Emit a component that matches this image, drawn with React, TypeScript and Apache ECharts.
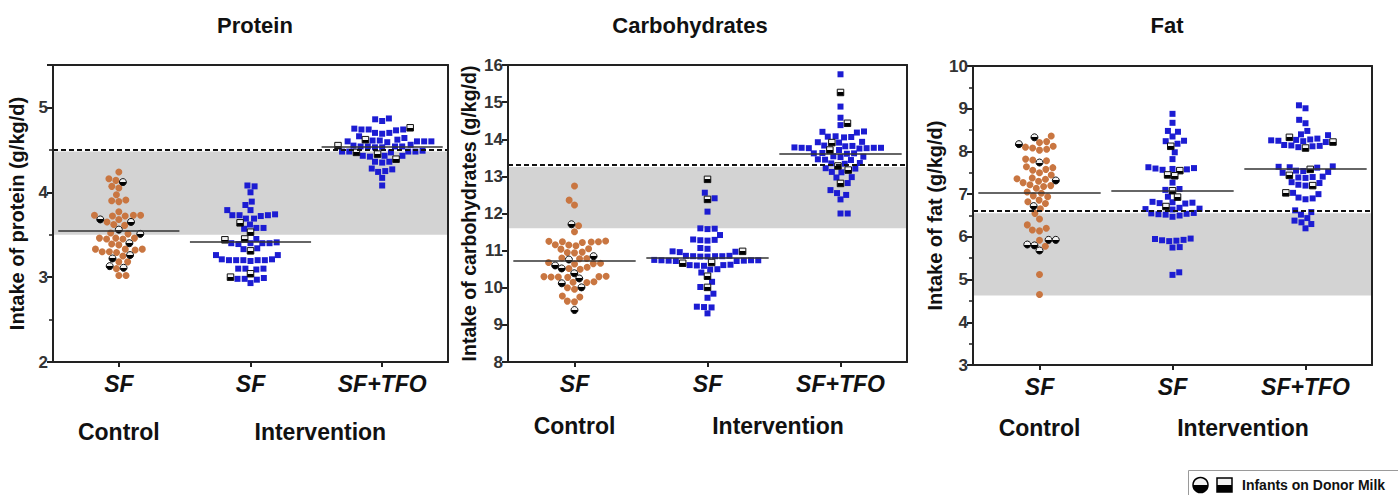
import React, { useEffect, useRef } from 'react';
import * as echarts from 'echarts';

const categories = ['SF', 'SF', 'SF+TFO'];
const groupLabels = ['Control', 'Intervention'];
const titles = ['Protein', 'Carbohydrates', 'Fat'];
const yNames = ['Intake of protein (g/kg/d)', 'Intake of carbohydrates (g/kg/d)', 'Intake of fat (g/kg/d)'];
const legendLabel = 'Infants on Donor Milk';

// ---------- Protein ----------
const proteinControl = [4.24, 4.16, 4.14, 4.07, 4.05, 3.97, 3.91, 3.89, 3.9, 3.77, 3.73, 3.73, 3.72, 3.72, 3.73, 3.68, 3.65, 3.62, 3.61, 3.52, 3.51, 3.46, 3.46, 3.45, 3.46, 3.45, 3.39, 3.38, 3.33, 3.33, 3.32, 3.33, 3.3, 3.3, 3.29, 3.25, 3.18, 3.18, 3.1, 3.02, 3.02];
const proteinControlDM = [4.12, 3.68, 3.65, 3.56, 3.51, 3.4, 3.26, 3.22, 3.13, 3.11];
const proteinSF = [4.08, 4.07, 4.0, 3.89, 3.85, 3.79, 3.79, 3.74, 3.73, 3.73, 3.73, 3.72, 3.69, 3.69, 3.62, 3.58, 3.58, 3.57, 3.45, 3.41, 3.4, 3.4, 3.4, 3.4, 3.39, 3.34, 3.33, 3.26, 3.26, 3.21, 3.2, 3.2, 3.2, 3.2, 3.19, 3.2, 3.21, 3.1, 3.1, 3.09, 3.1, 2.99, 2.98, 2.98, 2.97, 2.93];
const proteinSFDM = [3.64, 3.53, 3.44, 3.45, 3.31, 3.04, 3.0];
const proteinTFO = [4.87, 4.86, 4.84, 4.75, 4.74, 4.74, 4.73, 4.74, 4.7, 4.7, 4.69, 4.66, 4.64, 4.62, 4.6, 4.6, 4.61, 4.59, 4.6, 4.6, 4.61, 4.56, 4.54, 4.54, 4.53, 4.54, 4.55, 4.53, 4.54, 4.48, 4.48, 4.49, 4.48, 4.47, 4.48, 4.43, 4.43, 4.42, 4.43, 4.36, 4.35, 4.36, 4.28, 4.27, 4.25, 4.24, 4.17, 4.08];
const proteinTFODM = [4.76, 4.62, 4.55, 4.47, 4.45, 4.39];
const proteinMeans = [3.55, 3.42, 4.54];
const proteinBand = [3.5, 4.48];
const proteinRef = 4.5;

// ---------- Carbohydrates ----------
const carbControl = [12.74, 12.36, 12.23, 11.67, 11.51, 11.26, 11.24, 11.24, 11.23, 11.25, 11.22, 11.15, 11.13, 11.16, 11.05, 11.04, 10.95, 10.94, 10.96, 10.8, 10.79, 10.78, 10.68, 10.66, 10.65, 10.64, 10.55, 10.52, 10.5, 10.3, 10.29, 10.28, 10.3, 10.29, 10.31, 10.16, 10.15, 10.14, 10.0, 9.96, 9.78, 9.75, 9.64, 9.62];
const carbControlDM = [11.71, 10.85, 10.76, 10.6, 10.52, 10.39, 10.25, 10.12, 10.01, 9.4];
const carbSF = [12.56, 12.41, 12.05, 11.6, 11.58, 11.59, 11.42, 11.3, 11.28, 11.27, 11.29, 11.07, 11.05, 10.97, 10.96, 10.98, 10.85, 10.86, 10.84, 10.85, 10.86, 10.84, 10.85, 10.74, 10.73, 10.72, 10.74, 10.73, 10.75, 10.72, 10.74, 10.61, 10.62, 10.6, 10.61, 10.59, 10.49, 10.5, 10.41, 10.16, 10.02, 9.84, 9.73, 9.48, 9.47, 9.49, 9.31];
const carbSFDM = [12.92, 12.38, 10.98, 10.68, 10.66, 10.31, 10.01];
const carbTFO = [15.75, 14.88, 14.58, 14.38, 14.2, 14.21, 14.18, 14.07, 14.06, 14.08, 14.05, 13.92, 13.93, 13.91, 13.82, 13.83, 13.81, 13.77, 13.76, 13.77, 13.78, 13.76, 13.77, 13.75, 13.71, 13.62, 13.61, 13.63, 13.62, 13.53, 13.54, 13.52, 13.45, 13.44, 13.46, 13.35, 13.36, 13.34, 13.22, 13.21, 13.12, 13.11, 12.98, 12.97, 12.82, 12.63, 12.55, 12.5, 12.38, 12.0, 12.0];
const carbTFODM = [15.26, 14.43, 13.91, 13.71, 13.28, 13.17, 12.81];
const carbMeans = [10.72, 10.82, 13.62];
const carbBand = [11.6, 13.25];
const carbRef = 13.31;

// ---------- Fat ----------
const fatControl = [8.36, 8.23, 8.21, 8.12, 8.1, 8.08, 8.05, 8.03, 7.82, 7.8, 7.78, 7.64, 7.62, 7.58, 7.56, 7.5, 7.45, 7.38, 7.36, 7.35, 7.3, 7.27, 7.22, 7.2, 7.18, 7.14, 7.05, 7.02, 6.96, 6.94, 6.86, 6.82, 6.78, 6.66, 6.55, 6.42, 6.28, 6.2, 6.16, 6.14, 5.92, 5.78, 5.12, 4.65];
const fatControlDM = [8.33, 8.17, 7.74, 7.32, 6.72, 5.93, 5.93, 5.82, 5.8, 5.68];
const fatSF = [8.88, 8.67, 8.48, 8.46, 8.35, 8.25, 8.24, 8.18, 7.98, 7.82, 7.63, 7.61, 7.6, 7.59, 7.58, 7.57, 7.27, 7.12, 7.1, 6.94, 6.82, 6.81, 6.8, 6.79, 6.78, 6.68, 6.66, 6.65, 6.64, 6.56, 6.55, 6.54, 6.53, 6.52, 6.5, 6.47, 5.96, 5.93, 5.92, 5.91, 5.9, 5.95, 5.76, 5.75, 5.17, 5.11];
const fatSFDM = [8.12, 7.55, 7.45, 7.43, 7.08, 6.93, 6.71];
const fatTFO = [9.08, 9.01, 8.74, 8.66, 8.48, 8.4, 8.38, 8.3, 8.28, 8.27, 8.26, 8.25, 8.24, 8.22, 8.15, 8.14, 8.13, 8.12, 8.1, 7.65, 7.64, 7.63, 7.62, 7.55, 7.54, 7.52, 7.5, 7.41, 7.4, 7.39, 7.38, 7.28, 7.26, 7.22, 7.2, 7.03, 7.0, 6.92, 6.9, 6.88, 6.62, 6.58, 6.52, 6.44, 6.38, 6.34, 6.3, 6.2];
const fatTFODM = [8.33, 8.22, 8.08, 7.58, 7.44, 7.2, 7.03];
const fatMeans = [7.03, 7.08, 7.6];
const fatBand = [4.63, 6.55];
const fatRef = 6.61;

const ORANGE = '#c97641';
const BLUE = '#1c1cd2';
const FONT = '"Liberation Sans", Arial, Helvetica, sans-serif';

const halfFill = () =>
  new echarts.graphic.LinearGradient(0, 0, 0, 1, [
    { offset: 0, color: '#f2f2f2' },
    { offset: 0.5, color: '#f2f2f2' },
    { offset: 0.5, color: '#000' },
    { offset: 1, color: '#000' },
  ]);

function swarm(vals: number[], pxPerUnit: number, D: number): number[] {
  const idx = vals.map((_, i) => i).sort((a, b) => vals[a] - vals[b]);
  const placed: { x: number; y: number }[] = [];
  const out = new Array(vals.length).fill(0);
  let flip = 1;
  for (const i of idx) {
    const y = vals[i] * pxPerUnit;
    const near = placed.filter((p) => Math.abs(p.y - y) < D);
    const cands = [0];
    for (const p of near) {
      const dx = Math.sqrt(D * D - (p.y - y) * (p.y - y));
      cands.push(p.x + dx, p.x - dx);
    }
    cands.sort((a, b) => Math.abs(a) - Math.abs(b) || (a - b) * flip);
    let x = 0;
    for (const c of cands) {
      if (near.every((p) => (p.x - c) * (p.x - c) + (p.y - y) * (p.y - y) >= D * D - 1e-6)) {
        x = c;
        break;
      }
    }
    flip = -flip;
    placed.push({ x, y });
    out[i] = x;
  }
  return out;
}

const panels = [
  { left: 53, top: 65, width: 395, height: 297, min: 2, max: 5.5, minor: true, nameGap: 26, nameSize: 20, titleX: 255, groupY: 432,
    groups: [[proteinControl, proteinControlDM], [proteinSF, proteinSFDM], [proteinTFO, proteinTFODM]],
    means: proteinMeans, band: proteinBand, ref: proteinRef },
  { left: 508, top: 65, width: 399, height: 297, min: 8, max: 16, minor: false, nameGap: 29, nameSize: 19.5, titleX: 690, groupY: 426,
    groups: [[carbControl, carbControlDM], [carbSF, carbSFDM], [carbTFO, carbTFODM]],
    means: carbMeans, band: carbBand, ref: carbRef },
  { left: 973, top: 66, width: 399, height: 299, min: 3, max: 10, minor: true, nameGap: 22, nameSize: 20, titleX: 1167, groupY: 428,
    groups: [[fatControl, fatControlDM], [fatSF, fatSFDM], [fatTFO, fatTFODM]],
    means: fatMeans, band: fatBand, ref: fatRef },
];

const txt = (text: string, x: number, y: number, size: number, align = 'center') => ({
  type: 'text', x, y,
  style: { text, fontFamily: FONT, fontSize: size, fontWeight: 'bold', fill: '#111', align, verticalAlign: 'middle' },
});

function buildOption() {
  const grid: any[] = [];
  const xAxis: any[] = [];
  const yAxis: any[] = [];
  const series: any[] = [];
  const graphic: any[] = [];
  const frameLine = { show: true, onZero: false, lineStyle: { color: '#222', width: 2 } };

  panels.forEach((p, pi) => {
    grid.push({ left: p.left, top: p.top, width: p.width, height: p.height, show: false });
    const catW = p.width / 3;
    const pxPerUnit = p.height / (p.max - p.min);
    xAxis.push({
      gridIndex: pi, type: 'category', data: categories, position: 'bottom', z: 10,
      axisLine: frameLine,
      axisTick: { show: true, alignWithLabel: true, length: 5, lineStyle: { color: '#222', width: 2 } },
      axisLabel: { fontFamily: FONT, fontSize: 23, fontWeight: 'bold', fontStyle: 'italic', color: '#111', margin: 10 },
      splitLine: { show: false },
    });
    xAxis.push({
      gridIndex: pi, type: 'value', position: 'top', min: -0.5, max: 2.5, z: 10,
      axisLine: frameLine, axisTick: { show: false }, axisLabel: { show: false }, splitLine: { show: false },
    });
    yAxis.push({
      gridIndex: pi, type: 'value', position: 'left', min: p.min, max: p.max, interval: 1, z: 10,
      name: yNames[pi], nameLocation: 'middle', nameRotate: 90, nameGap: p.nameGap,
      nameTextStyle: { fontFamily: FONT, fontSize: p.nameSize, fontWeight: 'bold', color: '#111' },
      axisLine: frameLine,
      axisTick: { show: true, length: 6, lineStyle: { color: '#222', width: 2 } },
      minorTick: { show: p.minor, splitNumber: 2, length: 4, lineStyle: { color: '#222', width: 1.5 } },
      axisLabel: {
        fontFamily: FONT, fontSize: 17, fontWeight: 'bold', color: '#333', margin: 5,
        formatter: (v: number) => (Number.isInteger(v) ? String(v) : ''),
      },
      splitLine: { show: false },
    });
    yAxis.push({
      gridIndex: pi, type: 'value', position: 'right', min: p.min, max: p.max, z: 10,
      axisLine: frameLine, axisTick: { show: false }, axisLabel: { show: false }, splitLine: { show: false },
    });
    const xi = pi * 2 + 1;
    const yi = pi * 2;

    series.push({
      type: 'scatter', xAxisIndex: xi, yAxisIndex: yi, data: [], z: 1, silent: true,
      markArea: { silent: true, z: 1, itemStyle: { color: '#d3d3d3' }, data: [[{ yAxis: p.band[0] }, { yAxis: p.band[1] }]] },
    });

    p.groups.forEach((g, gi) => {
      const [reg, dm] = g;
      const all = reg.concat(dm);
      const offs = swarm(all, pxPerUnit, 7.2);
      const toPt = (v: number, k: number) => [gi + offs[k] / catW, v];
      const regPts = reg.map((v, k) => toPt(v, k));
      const dmPts = dm.map((v, k) => toPt(v, reg.length + k));
      const isCircle = gi === 0;
      series.push({
        type: 'scatter', xAxisIndex: xi, yAxisIndex: yi, z: 3, silent: true,
        symbol: isCircle ? 'circle' : 'rect', symbolSize: isCircle ? 7 : 6,
        itemStyle: { color: isCircle ? ORANGE : BLUE, opacity: 1 },
        data: regPts,
      });
      series.push({
        type: 'scatter', xAxisIndex: xi, yAxisIndex: yi, z: 4, silent: true,
        symbol: isCircle ? 'circle' : 'rect', symbolSize: isCircle ? 7 : 6.5,
        itemStyle: { color: halfFill(), borderColor: '#111', borderWidth: 1, opacity: 1 },
        data: dmPts,
      });
    });

    series.push({
      type: 'scatter', xAxisIndex: xi, yAxisIndex: yi, data: [], z: 6, silent: true,
      markLine: {
        silent: true, symbol: ['none', 'none'], label: { show: false },
        data: [
          { yAxis: p.ref, lineStyle: { color: '#111', width: 2, type: [5, 3] } },
          ...p.means.map((m, i) => [
            { coord: [i - 0.46, m], lineStyle: { color: '#333', width: 1.5, type: 'solid' } },
            { coord: [i + 0.46, m] },
          ]),
        ],
      },
    });

    const cx = (i: number) => p.left + catW * (i + 0.5);
    graphic.push(txt(titles[pi], p.titleX, 25, 22));
    graphic.push(txt(groupLabels[0], cx(0), p.groupY, 23));
    graphic.push(txt(groupLabels[1], (cx(1) + cx(2)) / 2 + 4, p.groupY, 23));
  });

  graphic.push({
    type: 'rect', shape: { x: 1188.5, y: 470.5, width: 215, height: 30 },
    style: { fill: '#fff', stroke: '#9a9a9a', lineWidth: 1 },
  });
  graphic.push({
    type: 'circle', shape: { cx: 1200.5, cy: 485, r: 7.5 },
    style: { fill: halfFill(), stroke: '#000', lineWidth: 1.5 },
  });
  graphic.push({
    type: 'rect', shape: { x: 1217, y: 478, width: 15, height: 14 },
    style: { fill: halfFill(), stroke: '#000', lineWidth: 1.5 },
  });
  graphic.push(txt(legendLabel, 1242, 485, 14, 'left'));

  return { animation: false, backgroundColor: '#fff', grid, xAxis, yAxis, series, graphic };
}

export default function App() {
  const ref = useRef<HTMLDivElement>(null);
  useEffect(() => {
    if (!ref.current) return;
    const chart = echarts.init(ref.current, undefined, { renderer: 'svg' });
    chart.setOption(buildOption() as any);
    return () => chart.dispose();
  }, []);
  return <div ref={ref} style={{ position: 'absolute', left: 0, top: 0, width: 1398, height: 495 }} />;
}
